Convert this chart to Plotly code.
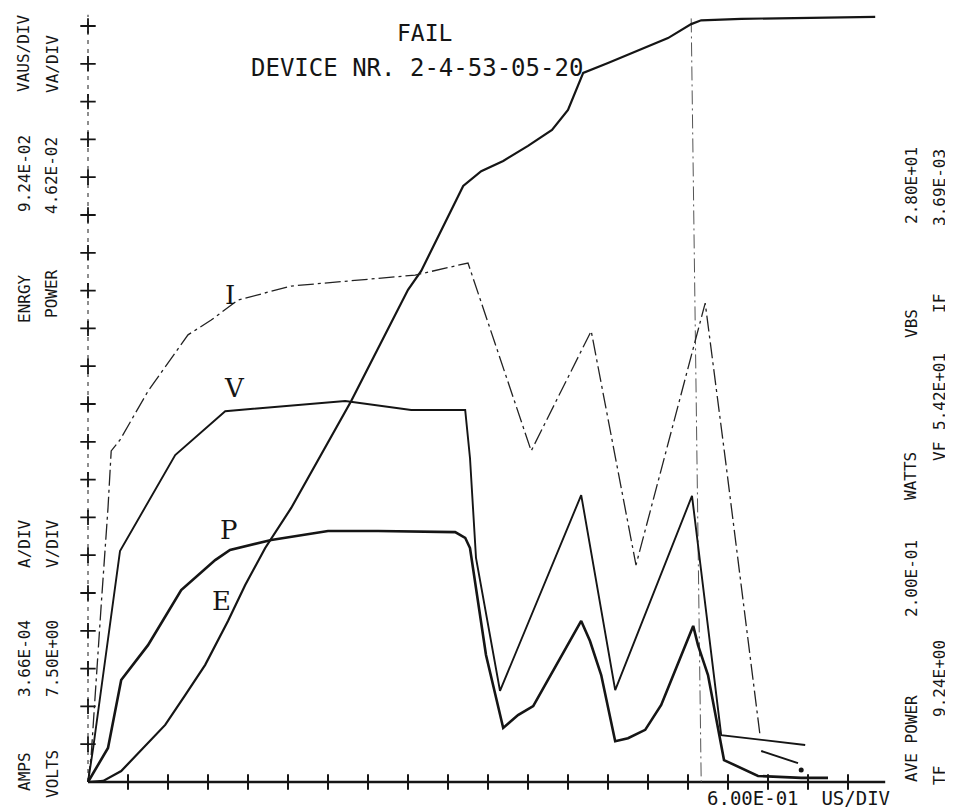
import plotly.graph_objects as go

# ---- data (x in time divisions, y in vertical divisions) ----
E_x = [0, 0.38, 0.83, 1.45, 1.93, 2.43, 2.93, 3.5, 3.93, 4.43, 5.08, 6.58, 8.0, 8.33, 9.38, 9.83,
       10.38, 11.0, 11.6, 12.0, 12.38, 13.0, 13.93, 14.5, 15.08, 15.33, 16.33, 19.68]
E_y = [0, 0.03, 0.29, 0.98, 1.51, 2.30, 3.10, 4.26, 5.21, 6.19, 7.25, 10.08, 13.02, 13.52, 15.77, 16.16,
       16.43, 16.83, 17.25, 17.78, 18.76, 19.02, 19.42, 19.68, 20.05, 20.15, 20.19, 20.24]

I_x = [0, 0.08, 0.33, 0.5, 0.58, 0.8, 1.5, 2.5, 3.08, 3.75, 5.08, 8.18, 9.5, 11.08, 12.58, 13.7,
       15.43, 15.93, 16.8]
I_y = [0, 0.71, 4.68, 7.25, 8.76, 9.05, 10.34, 11.83, 12.22, 12.75, 13.12, 13.41, 13.73, 8.76, 11.93, 5.74,
       12.67, 8.57, 1.24]
I_tail_x = [16.83, 17.75]
I_tail_y = [0.82, 0.50]
I_dot_x = [17.83]
I_dot_y = [0.32]

V_x = [0, 0.13, 0.8, 2.18, 3.43, 3.75, 6.43, 8.08, 9.43, 9.55, 9.7, 10.3, 12.33, 13.18, 15.1, 15.83, 17.93]
V_y = [0, 0.90, 6.11, 8.65, 9.81, 9.84, 10.08, 9.84, 9.84, 8.57, 5.93, 2.41, 7.59, 2.43, 7.57, 1.24, 0.98]

P_x = [0, 0.5, 0.83, 1.5, 2.33, 3.18, 3.55, 4.58, 6.0, 7.25, 9.18, 9.43, 9.55, 9.75, 9.95, 10.38,
       10.75, 11.13, 12.33, 12.55, 12.83, 13.18, 13.5, 13.93, 14.33, 15.13, 15.25, 15.5, 15.9, 16.75,
       17.83, 18.5]
P_y = [0, 0.90, 2.70, 3.62, 5.08, 5.87, 6.14, 6.40, 6.64, 6.64, 6.61, 6.46, 6.19, 4.79, 3.36, 1.43,
       1.77, 2.01, 4.26, 3.73, 2.83, 1.08, 1.16, 1.38, 2.04, 4.13, 3.62, 2.83, 0.58, 0.16,
       0.11, 0.11]

FAIL_x = [15.08, 15.33]
FAIL_y = [20.2, 0]

X_TICKS = list(range(1, 20))
Y_TICKS = list(range(1, 21))
X_AXIS_END = 19.93
Y_AXIS_END = 20.3

TITLE1 = "FAIL"
TITLE2 = "DEVICE NR. 2-4-53-05-20"
X_LABEL = "6.00E-01  US/DIV"

LEFT_TEXTS = [  # (column px x, center px y, text)
    (16, 764, "AMPS"), (16, 651, "3.66E-04"), (16, 536, "A/DIV"),
    (16, 291, "ENRGY"), (16, 166, "9.24E-02"), (16, 46, "VAUS/DIV"),
    (44, 766, "VOLTS"), (44, 651, "7.50E+00"), (44, 536, "V/DIV"),
    (44, 286, "POWER"), (44, 168, "4.62E-02"), (44, 56, "VA/DIV"),
]
RIGHT_TEXTS = [
    (903, 731, "AVE POWER"), (903, 571, "2.00E-01"), (903, 468, "WATTS"),
    (903, 316, "VBS"), (903, 178, "2.80E+01"),
    (931, 768, "TF"), (931, 671, "9.24E+00"), (931, 444, "VF"), (931, 384, "5.42E+01"),
    (931, 296, "IF"), (931, 180, "3.69E-03"),
]
CURVE_LABELS = [(3.55, 12.88, "I"), (3.65, 10.42, "V"), (3.53, 6.67, "P"), (3.33, 4.79, "E")]

W, H = 953, 812
INK = "#151515"

fig = go.Figure()

# axes drawn as marks
fig.add_trace(go.Scatter(x=[0, X_AXIS_END], y=[0, 0], mode="lines",
                         line=dict(color=INK, width=2.6), hoverinfo="skip"))
fig.add_trace(go.Scatter(x=X_TICKS, y=[0] * len(X_TICKS), mode="markers",
                         marker=dict(symbol="line-ns-open", size=11, color=INK,
                                     line=dict(color=INK, width=2)),
                         hoverinfo="skip"))
fig.add_trace(go.Scatter(x=[0, 0], y=[0, Y_AXIS_END], mode="lines",
                         line=dict(color="#444", width=1.2, dash="4px,5px"), hoverinfo="skip"))
fig.add_trace(go.Scatter(x=[0] * len(Y_TICKS), y=Y_TICKS, mode="markers",
                         marker=dict(symbol="cross-thin-open", size=11, color=INK,
                                     line=dict(color=INK, width=1.8)),
                         hoverinfo="skip"))

# fail marker line
fig.add_trace(go.Scatter(x=FAIL_x, y=FAIL_y, mode="lines",
                         line=dict(color="#555", width=1, dash="14px,4px,2px,4px"), hoverinfo="skip"))

# curves
fig.add_trace(go.Scatter(x=E_x, y=E_y, mode="lines", name="E",
                         line=dict(color=INK, width=2.2)))
fig.add_trace(go.Scatter(x=I_x, y=I_y, mode="lines", name="I",
                         line=dict(color="#222", width=1.3, dash="16px,4px,3px,4px")))
fig.add_trace(go.Scatter(x=I_tail_x, y=I_tail_y, mode="lines", showlegend=False,
                         line=dict(color=INK, width=2)))
fig.add_trace(go.Scatter(x=I_dot_x, y=I_dot_y, mode="markers", showlegend=False,
                         marker=dict(color=INK, size=5)))
fig.add_trace(go.Scatter(x=V_x, y=V_y, mode="lines", name="V",
                         line=dict(color=INK, width=1.9)))
fig.add_trace(go.Scatter(x=P_x, y=P_y, mode="lines", name="P",
                         line=dict(color=INK, width=2.6)))

def px2paper(px, py):
    return px / W, 1 - py / H

annotations = []
mono = dict(family="DejaVu Sans Mono", size=16, color=INK)
for (px, py, t) in LEFT_TEXTS + RIGHT_TEXTS:
    ax, ay = px2paper(px, py)
    annotations.append(dict(x=ax, y=ay, xref="paper", yref="paper", text=t, showarrow=False,
                            textangle=-90, xanchor="center", yanchor="middle", font=mono,
                            borderpad=0))

for (px, py, t, sz) in [(416, 25, TITLE1, 23), (409, 60, TITLE2, 24), (790, 790, X_LABEL, 19)]:
    ax, ay = px2paper(px, py)
    annotations.append(dict(x=ax, y=ay, xref="paper", yref="paper", text=t, showarrow=False,
                            xanchor="center", yanchor="middle", borderpad=0,
                            font=dict(family="DejaVu Sans Mono", size=sz, color=INK)))

for (x, y, t) in CURVE_LABELS:
    annotations.append(dict(x=x, y=y, xref="x", yref="y", text=t, showarrow=False,
                            font=dict(family="DejaVu Serif", size=26, color=INK)))

x0 = -80 / 40
x1 = (W - 80) / 40
y1 = 774 / 37.8
y0 = -(H - 774) / 37.8

fig.update_layout(
    width=W, height=H, margin=dict(l=0, r=0, t=0, b=0),
    paper_bgcolor="white", plot_bgcolor="white", showlegend=False,
    xaxis=dict(range=[x0, x1], visible=False, fixedrange=True),
    yaxis=dict(range=[y0, y1], visible=False, fixedrange=True),
    annotations=annotations,
)

fig.write_html("out.html")
